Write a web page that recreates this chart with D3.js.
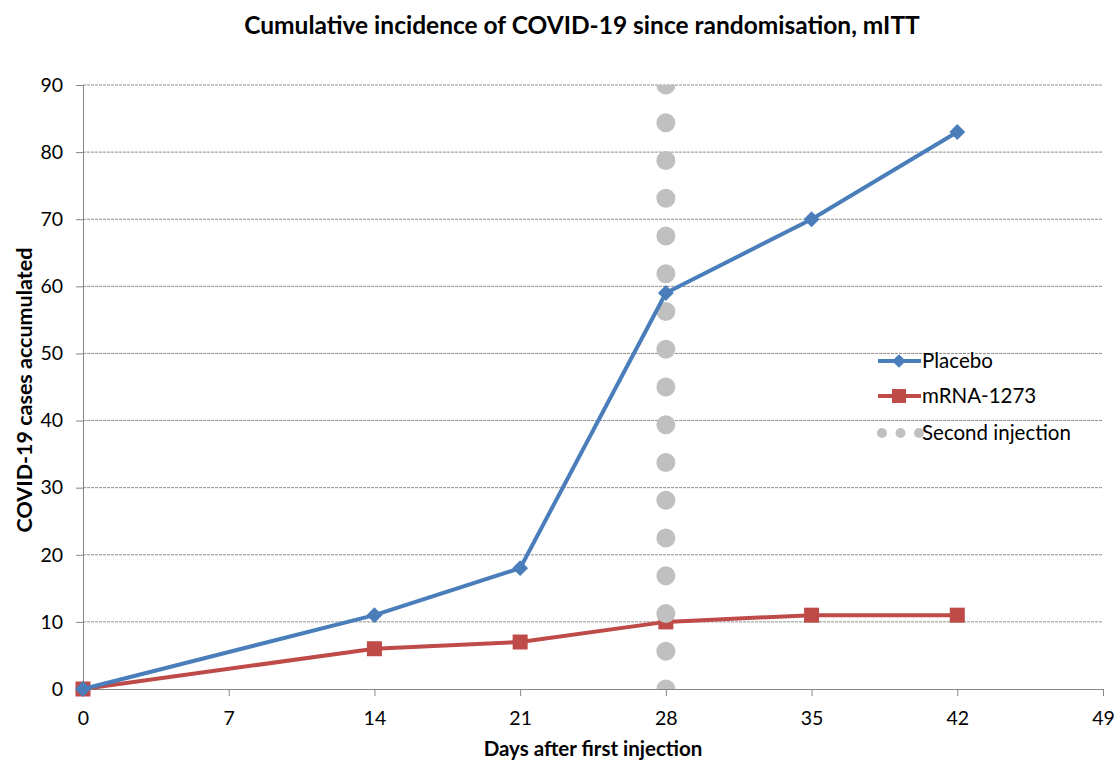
<!DOCTYPE html>
<html>
<head>
<meta charset="utf-8">
<script src="https://cdn.jsdelivr.net/npm/d3@7"></script>
<style>
  body { margin: 0; background: #fff; }
  svg { display: block; font-family: Lato, "Open Sans", sans-serif; }
</style>
</head>
<body>
<svg id="chart" width="1115" height="760"></svg>
<script>
// Days after first injection at which cases were counted
const days = [0, 14, 21, 28, 35, 42];
// Cumulative COVID-19 cases per arm
const placebo = [0, 11, 18, 59, 70, 83];
const mrna1273 = [0, 6, 7, 10, 11, 11];
// Day of the second injection
const secondInjectionDay = 28;
// Axis ticks
const xTicks = [0, 7, 14, 21, 28, 35, 42, 49];
const yTicks = [0, 10, 20, 30, 40, 50, 60, 70, 80, 90];
const seriesNames = ["Placebo", "mRNA-1273", "Second injection"];

const svg = d3.select("#chart");
const margin = { left: 83, right: 12, top: 85, bottom: 71 };
const W = 1115, H = 760;

const x = d3.scaleLinear().domain([0, 49]).range([margin.left, W - margin.right]);
const y = d3.scaleLinear().domain([0, 90]).range([H - margin.bottom, margin.top]);

const axisGray = "#868686";
const blue = "#4A7EBB";
const red = "#BE4B48";
const dotGray = "#C0C0C0";

// Title
svg.append("text")
  .attr("x", 582).attr("y", 34)
  .attr("text-anchor", "middle")
  .attr("font-size", 24.5).attr("font-weight", "bold")
  .attr("fill", "#000")
  .text("Cumulative incidence of COVID-19 since randomisation, mITT");

// Horizontal gridlines
svg.append("g")
  .selectAll("line")
  .data(yTicks.filter(d => d > 0))
  .join("line")
  .attr("x1", x(0)).attr("x2", x(49))
  .attr("y1", d => y(d)).attr("y2", d => y(d))
  .attr("stroke", "#8c8c8c").attr("stroke-width", 1)
  .attr("stroke-dasharray", "3,1");

// Y axis
const yAxis = svg.append("g")
  .attr("transform", `translate(${x(0)},0)`)
  .call(d3.axisLeft(y).tickValues(yTicks).tickSize(7).tickPadding(13).tickFormat(d3.format("d")));
yAxis.select(".domain").attr("stroke", axisGray);
yAxis.selectAll(".tick line").attr("stroke", axisGray);
yAxis.selectAll(".tick text").attr("font-size", 19.5).attr("fill", "#000")
  .attr("font-family", "Lato, sans-serif");

// X axis
const xAxis = svg.append("g")
  .attr("transform", `translate(0,${y(0)})`)
  .call(d3.axisBottom(x).tickValues(xTicks).tickSize(7).tickPadding(15).tickFormat(d3.format("d")));
xAxis.select(".domain").attr("stroke", axisGray);
xAxis.selectAll(".tick line").attr("stroke", axisGray);
xAxis.selectAll(".tick text").attr("font-size", 19.5).attr("fill", "#000")
  .attr("font-family", "Lato, sans-serif");

// Axis titles
svg.append("text")
  .attr("transform", `translate(32,${(y(0) + y(90)) / 2 + 3}) rotate(-90)`)
  .attr("text-anchor", "middle")
  .attr("font-size", 21.5).attr("font-weight", "bold")
  .text("COVID-19 cases accumulated");

svg.append("text")
  .attr("x", 593).attr("y", 756)
  .attr("text-anchor", "middle")
  .attr("font-size", 20.5).attr("font-weight", "bold")
  .text("Days after first injection");

// Clip for the plot area
svg.append("clipPath").attr("id", "plotClip")
  .append("rect")
  .attr("x", x(0)).attr("y", y(90))
  .attr("width", x(49) - x(0)).attr("height", y(0) - y(90));

const line = d3.line().x(d => x(d[0])).y(d => y(d[1]));
const diamond = d3.symbol().type(d3.symbolDiamond2).size(160);

// mRNA-1273 series
const mrnaData = days.map((d, i) => [d, mrna1273[i]]);
svg.append("path")
  .datum(mrnaData)
  .attr("d", line)
  .attr("fill", "none").attr("stroke", red).attr("stroke-width", 4)
  .attr("stroke-linejoin", "round");
svg.append("g").selectAll("rect")
  .data(mrnaData)
  .join("rect")
  .attr("x", d => x(d[0]) - 7.5).attr("y", d => y(d[1]) - 7.5)
  .attr("width", 15).attr("height", 15)
  .attr("fill", red);

// Second injection marker line (round dots)
svg.append("line")
  .attr("clip-path", "url(#plotClip)")
  .attr("x1", x(secondInjectionDay)).attr("x2", x(secondInjectionDay))
  .attr("y1", y(90)).attr("y2", y(0) + 1)
  .attr("stroke", dotGray).attr("stroke-width", 19)
  .attr("stroke-linecap", "round")
  .attr("stroke-dasharray", `0,${(y(0) - y(90)) / 16}`);

// Placebo series
const placeboData = days.map((d, i) => [d, placebo[i]]);
svg.append("path")
  .datum(placeboData)
  .attr("d", line)
  .attr("fill", "none").attr("stroke", blue).attr("stroke-width", 4)
  .attr("stroke-linejoin", "round");
svg.append("g").selectAll("path")
  .data(placeboData)
  .join("path")
  .attr("transform", d => `translate(${x(d[0])},${y(d[1])})`)
  .attr("d", diamond)
  .attr("fill", blue);

// Legend
const legend = svg.append("g");
const lx = 878, ltx = 922;
const ly = [361, 396, 433];
legend.append("line").attr("x1", lx).attr("x2", lx + 43).attr("y1", ly[0]).attr("y2", ly[0])
  .attr("stroke", blue).attr("stroke-width", 4);
legend.append("path").attr("transform", `translate(${lx + 21},${ly[0]})`)
  .attr("d", d3.symbol().type(d3.symbolDiamond2).size(120)).attr("fill", blue);
legend.append("line").attr("x1", lx).attr("x2", lx + 43).attr("y1", ly[1]).attr("y2", ly[1])
  .attr("stroke", red).attr("stroke-width", 4);
legend.append("rect").attr("x", lx + 21 - 7).attr("y", ly[1] - 7)
  .attr("width", 14).attr("height", 14).attr("fill", red);
legend.append("g").selectAll("circle")
  .data([0, 1, 2])
  .join("circle")
  .attr("cx", d => lx + 4 + d * 18.5).attr("cy", ly[2])
  .attr("r", 5).attr("fill", dotGray);
legend.selectAll("text.lbl")
  .data(seriesNames)
  .join("text")
  .attr("class", "lbl")
  .attr("x", ltx).attr("y", (d, i) => ly[i] + 7)
  .attr("font-size", 20.5).attr("fill", "#000")
  .text(d => d);
</script>
</body>
</html>
